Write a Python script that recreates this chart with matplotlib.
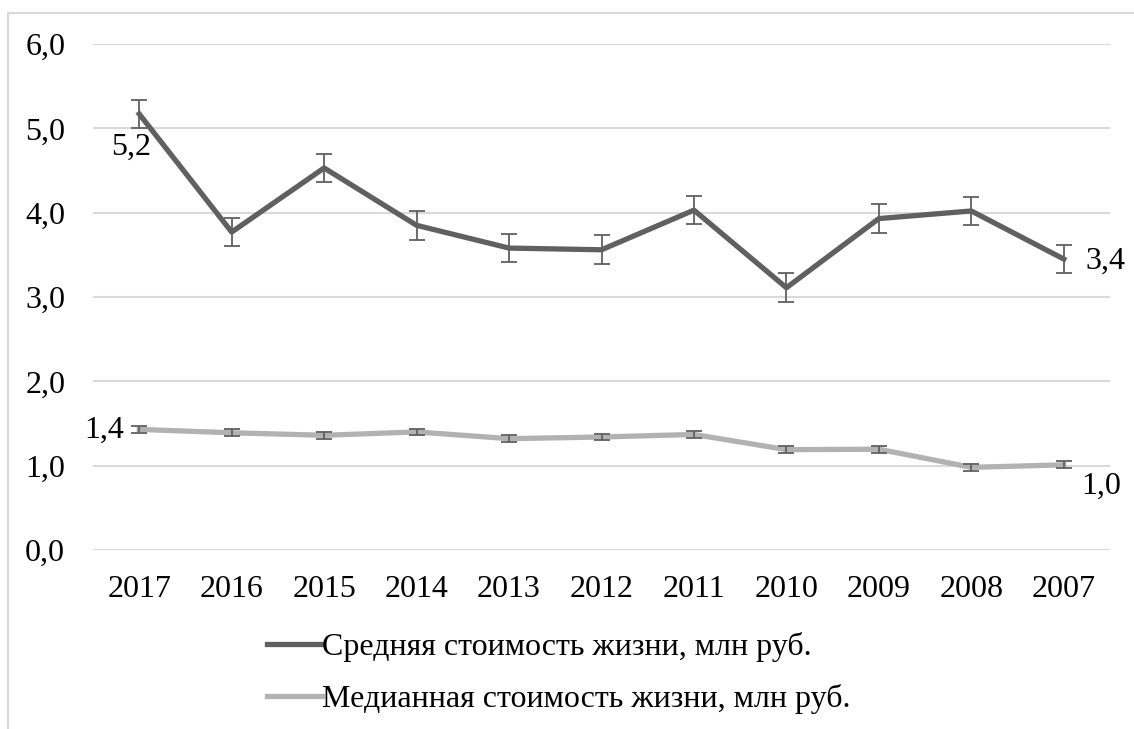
import matplotlib.pyplot as plt
from matplotlib.patches import Rectangle

plt.rcParams['font.family'] = ['Liberation Serif', 'DejaVu Serif']

YEARS = ['2017', '2016', '2015', '2014', '2013', '2012', '2011', '2010', '2009', '2008', '2007']
MEAN = [5.17, 3.77, 4.53, 3.85, 3.58, 3.56, 4.03, 3.11, 3.93, 4.02, 3.45]
MEAN_ERR = [0.17, 0.17, 0.17, 0.17, 0.17, 0.17, 0.17, 0.17, 0.17, 0.17, 0.17]
MEDIAN = [1.43, 1.39, 1.36, 1.40, 1.32, 1.34, 1.37, 1.19, 1.195, 0.98, 1.01]
MEDIAN_ERR = [0.04, 0.04, 0.04, 0.04, 0.04, 0.04, 0.04, 0.04, 0.04, 0.04, 0.04]
LABEL_MEAN = 'Средняя стоимость жизни, млн руб.'
LABEL_MEDIAN = 'Медианная стоимость жизни, млн руб.'

FS = 23
fig = plt.figure(figsize=(11.34, 7.29), dpi=100)
ax = fig.add_axes([93 / 1134, 1 - 550 / 729, (1110 - 93) / 1134, (550 - 44) / 729])

# outer chart border
fig.patches.append(Rectangle((8 / 1134, -0.2), 1.2, 1.2 - 13 / 729, transform=fig.transFigure,
                             fill=False, edgecolor='#d9d9d9', linewidth=1.5, zorder=0))

x = list(range(len(YEARS)))
ax.plot(x, MEAN, color='#606060', linewidth=3.8, label=LABEL_MEAN, zorder=3)
ax.errorbar(x, MEAN, yerr=MEAN_ERR, fmt='none', ecolor='#606060', elinewidth=1.3, capsize=5.5,
            capthick=1.3, zorder=4)
ax.plot(x, MEDIAN, color='#b2b2b2', linewidth=3.8, label=LABEL_MEDIAN, zorder=3)
ax.errorbar(x, MEDIAN, yerr=MEDIAN_ERR, fmt='none', ecolor='#606060', elinewidth=1.3, capsize=5.5,
            capthick=1.3, zorder=4)

ax.set_xlim(-0.5, len(YEARS) - 0.5)
ax.set_ylim(0, 6)
ax.set_yticks([0, 1, 2, 3, 4, 5, 6])
ax.set_yticklabels([f'{v},0' for v in range(7)])
ax.set_xticks(x)
ax.set_xticklabels(YEARS)
ax.tick_params(axis='both', length=0, labelsize=FS)
ax.tick_params(axis='y', pad=20)
ax.tick_params(axis='x', pad=18)
ax.grid(axis='y', color='#d9d9d9', linewidth=1.5)
ax.set_axisbelow(True)
for s in ax.spines.values():
    s.set_visible(False)

# data labels
ax.annotate('5,2', (0, MEAN[0]), xytext=(-6, -24), textcoords='offset points',
            ha='center', va='center', fontsize=FS)
ax.annotate('3,4', (10, MEAN[-1]), xytext=(30, -1.5), textcoords='offset points',
            ha='center', va='center', fontsize=FS)
ax.annotate('1,4', (0, MEDIAN[0]), xytext=(-25.5, -0.7), textcoords='offset points',
            ha='center', va='center', fontsize=FS)
ax.annotate('1,0', (10, MEDIAN[-1]), xytext=(26.6, -15.8), textcoords='offset points',
            ha='center', va='center', fontsize=FS)

ax.legend(loc='center left', bbox_to_anchor=(267 / 1134, 1 - 673 / 729), bbox_transform=fig.transFigure,
          frameon=False, fontsize=FS, handlelength=1.72, handletextpad=0.0, labelspacing=0.7,
          borderpad=0, borderaxespad=0)

fig.savefig('out.png', dpi=100)
